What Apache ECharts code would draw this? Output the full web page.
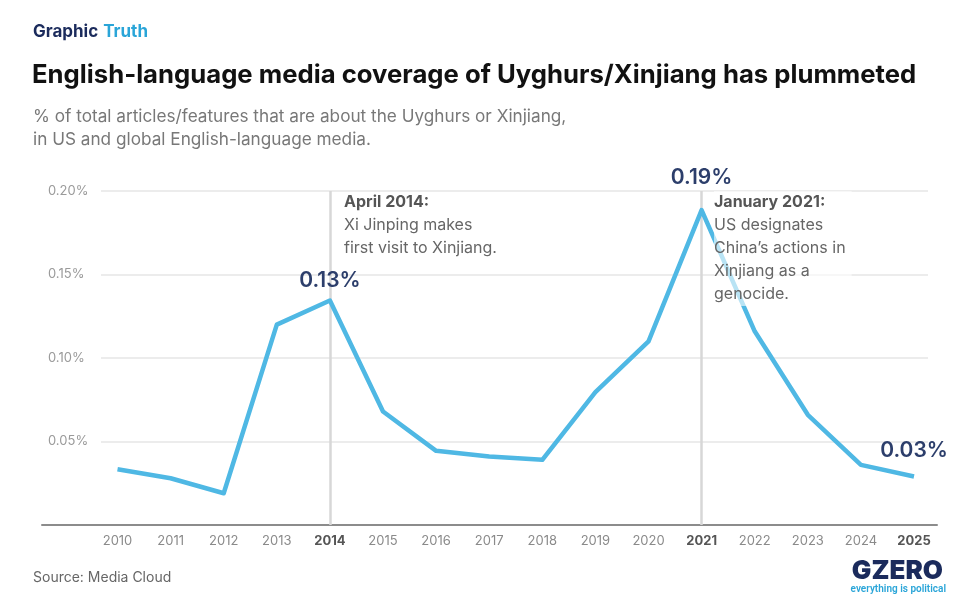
<!DOCTYPE html>
<html>
<head>
<meta charset="utf-8">
<script src="https://cdn.jsdelivr.net/npm/echarts@6/dist/echarts.min.js"></script>
<style>
  html, body { margin: 0; padding: 0; background: #fff; }
  #chart { width: 980px; height: 615px; }
</style>
</head>
<body>
<div id="chart"></div>
<script>
// data
const years = [2010, 2011, 2012, 2013, 2014, 2015, 2016, 2017, 2018, 2019, 2020, 2021, 2022, 2023, 2024, 2025]
const share = [0.0334, 0.028, 0.019, 0.120, 0.1344, 0.068, 0.0444, 0.041, 0.039, 0.0796, 0.110, 0.1886, 0.116, 0.066, 0.036, 0.029]
const boldYears = [2014, 2021, 2025]
const eventYears = [2014, 2021]
// value labels: year -> distance above point
const labelled = { 2014: 9, 2021: 22, 2025: 15 }

const FONT = 'Inter, "Noto Sans", sans-serif'
const chart = echarts.init(document.getElementById('chart'))

const seriesData = years.map((y, i) => {
  const item = { value: [y, share[i]] }
  if (labelled[y] !== undefined) {
    item.label = {
      show: true,
      position: 'top',
      distance: labelled[y],
      formatter: p => p.value[1].toFixed(2) + '%',
      fontFamily: FONT,
      fontSize: 21,
      fontWeight: 600,
      color: '#2c3e6b'
    }
  }
  return item
})

chart.setOption({
  backgroundColor: '#fff',
  animation: false,
  title: [
    {
      text: '{a|Graphic} {b|Truth}',
      left: 33, top: 23, padding: 0,
      textStyle: {
        rich: {
          a: { fontFamily: FONT, fontSize: 17, fontWeight: 700, color: '#1b2b5c' },
          b: { fontFamily: FONT, fontSize: 17, fontWeight: 700, color: '#2aa5d8' }
        }
      }
    },
    {
      text: 'English-language media coverage of Uyghurs/Xinjiang has plummeted',
      left: 32, top: 62, padding: 0,
      textStyle: { fontFamily: FONT, fontSize: 25.7, fontWeight: 700, color: '#111' }
    },
    {
      text: '% of total articles/features that are about the Uyghurs or Xinjiang,\nin US and global English-language media.',
      left: 33, top: 105, padding: 0,
      textStyle: { fontFamily: FONT, fontSize: 17.2, fontWeight: 400, lineHeight: 23, color: '#787878' }
    },
    {
      text: 'Source: Media Cloud',
      left: 33, top: 571, padding: 0,
      textStyle: { fontFamily: FONT, fontSize: 14, fontWeight: 400, color: '#666' }
    }
  ],
  grid: [
    { left: 42, right: 43, top: 191, bottom: 90 },
    { left: 101, right: 52, top: 191, bottom: 90 }
  ],
  xAxis: [
    {
      gridIndex: 0,
      type: 'value',
      min: 2008.578,
      max: 2025.433,
      axisLine: { show: true, lineStyle: { color: '#8c8c8c', width: 2 } },
      axisTick: { show: false },
      splitLine: { show: false },
      axisLabel: {
        customValues: years,
        margin: 10,
        fontFamily: FONT,
        fontSize: 13,
        color: '#8a8a8a',
        formatter: v => boldYears.includes(v) ? '{b|' + v + '}' : String(v),
        rich: { b: { fontFamily: FONT, fontSize: 13, fontWeight: 700, color: '#555' } }
      }
    },
    { gridIndex: 1, type: 'value', min: 0, max: 1, show: false }
  ],
  yAxis: [
    { gridIndex: 0, type: 'value', min: 0, max: 0.2, show: false },
    {
      gridIndex: 1,
      type: 'value',
      min: 0,
      max: 0.2,
      interval: 0.05,
      axisLine: { show: false },
      axisTick: { show: false },
      splitLine: { lineStyle: { color: '#e6e6e6', width: 1.5 } },
      axisLabel: {
        align: 'left',
        margin: 53,
        fontFamily: FONT,
        fontSize: 13,
        color: '#9a9a9a',
        formatter: v => v === 0 ? '' : v.toFixed(2) + '%'
      }
    }
  ],
  series: [
    {
      type: 'line',
      xAxisIndex: 0,
      yAxisIndex: 0,
      data: seriesData,
      symbol: 'circle',
      symbolSize: 0,
      showSymbol: true,
      z: 3,
      lineStyle: { color: '#4fb8e4', width: 4.5, join: 'round' },
      markLine: {
        silent: true,
        symbol: 'none',
        z: 1,
        label: { show: false },
        lineStyle: { color: '#d7d7d7', width: 2.5, type: 'solid' },
        data: eventYears.map(y => ({ xAxis: y }))
      }
    }
  ],
  graphic: [
    {
      type: 'text',
      left: 344, top: 191,
      z: 1,
      style: {
        text: '{h|April 2014:}\nXi Jinping makes\nfirst visit to Xinjiang.',
        font: '400 16px ' + FONT,
        fill: '#666',
        lineHeight: 23,
        rich: { h: { fontFamily: FONT, fontSize: 16, fontWeight: 700, fill: '#555', lineHeight: 23 } }
      }
    },
    {
      type: 'text',
      left: 714, top: 191,
      z: 10,
      style: {
        text: '{h|January 2021:}\nUS designates\nChina\u2019s actions in\nXinjiang as a\ngenocide.',
        font: '400 16px ' + FONT,
        fill: '#666',
        lineHeight: 23,
        backgroundColor: 'rgba(255,255,255,0.6)',
        padding: [0, 6, 0, 0],
        rich: { h: { fontFamily: FONT, fontSize: 16, fontWeight: 700, fill: '#555', lineHeight: 23 } }
      }
    },
    {
      type: 'text',
      right: 37, top: 558,
      style: {
        text: 'GZERO',
        font: '900 26px ' + FONT,
        fill: '#1b2b5c'
      }
    },
    {
      type: 'text',
      right: 34, top: 584,
      style: {
        text: 'everything is political',
        font: '600 10px "Liberation Sans Narrow", Roboto, sans-serif',
        fill: '#2aa5d8'
      }
    }
  ]
})
</script>
</body>
</html>
